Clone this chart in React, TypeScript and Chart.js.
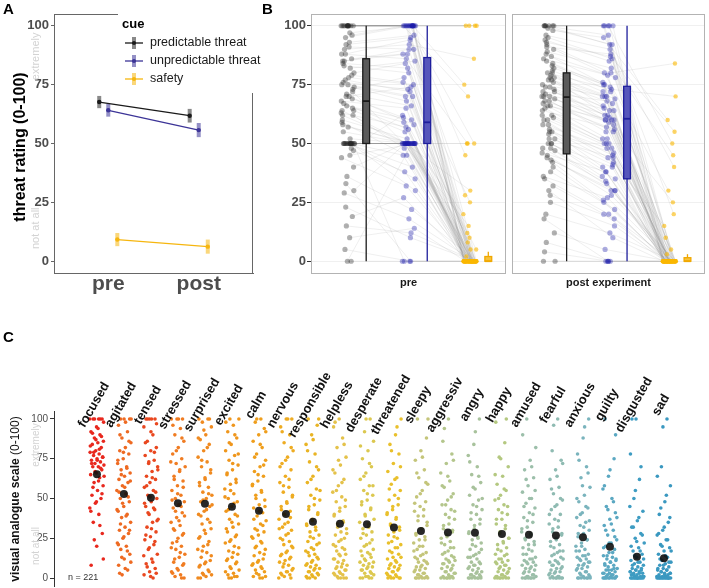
import React, { useEffect, useRef } from 'react';
import { Chart, registerables } from 'chart.js';

Chart.register(...registerables);

const FONT = "'Liberation Sans', Arial, Helvetica, sans-serif";
const W = 709;
const H = 588;
const HC = 600;

// ---------------- Panel A data ----------------
const timepoints = ['pre', 'post'];
const cueNames = ['predictable threat', 'unpredictable threat', 'safety'];
const predictableMean = [67.6, 61.8];
const unpredictableMean = [64.1, 55.7];
const safetyMean = [9.2, 6.2];
const predictableErr = [2.6, 2.9];
const unpredictableErr = [2.7, 3.0];
const safetyErr = [2.8, 3.0];
const ratingTicks = [0, 25, 50, 75, 100];

// ---------------- Panel B data ----------------
const facetNames = ['pre', 'post experiment'];
const prePredictable = [100, 50, 85, 72, 100, 60, 50, 95, 30, 78, 100, 50, 66, 88, 45, 100, 50, 75, 58, 0, 92, 50, 70, 83, 19, 100, 64, 50, 77, 40, 100, 55, 86, 50, 68, 10, 90, 73, 50, 62, 100, 23, 80, 50, 67, 96, 36, 75, 52, 5, 100, 57, 84, 48, 70, 50, 93, 29, 65, 0, 100, 50, 88, 64, 100, 50, 79, 71, 44, 97, 50, 62, 100, 85, 50, 33, 74, 91, 50, 69, 100, 59, 82, 50, 47, 100, 76, 50, 15, 63];
const preUnpredictable = [100, 50, 90, 50, 100, 52, 30, 100, 50, 75, 100, 45, 60, 86, 50, 100, 0, 70, 50, 0, 95, 50, 58, 80, 27, 100, 50, 35, 72, 50, 100, 50, 88, 50, 65, 14, 92, 78, 40, 50, 100, 10, 84, 50, 56, 100, 22, 68, 50, 0, 100, 50, 82, 62, 74, 50, 96, 18, 59, 50, 100, 50, 94, 55, 100, 50, 76, 66, 32, 100, 50, 48, 100, 88, 50, 0, 70, 90, 50, 61, 100, 45, 85, 50, 38, 100, 73, 50, 12, 57];
const preSafety = [0, 0, 0, 15, 0, 0, 0, 100, 0, 0, 0, 0, 5, 0, 0, 50, 0, 0, 0, 0, 0, 30, 0, 0, 0, 100, 0, 2, 0, 10, 0, 0, 50, 0, 0, 0, 86, 0, 0, 0, 0, 0, 25, 0, 0, 70, 0, 0, 0, 0, 100, 0, 0, 12, 0, 0, 45, 0, 0, 20, 0, 0, 0, 0, 0, 0, 8, 0, 0, 100, 0, 0, 0, 0, 50, 0, 0, 28, 0, 0, 0, 0, 0, 0, 0, 75, 0, 0, 0, 5];
const postPredictable = [100, 60, 75, 48, 100, 82, 30, 70, 55, 92, 0, 78, 65, 40, 95, 72, 50, 88, 12, 68, 100, 80, 45, 62, 25, 74, 90, 58, 0, 77, 85, 52, 70, 35, 98, 66, 48, 79, 20, 73, 100, 60, 83, 44, 70, 28, 94, 76, 50, 67, 87, 8, 72, 56, 100, 42, 80, 64, 38, 71, 100, 54, 86, 62, 91, 47, 74, 68, 32, 99, 58, 43, 96, 78, 52, 18, 81, 89, 46, 66, 100, 61, 77, 36, 50, 93, 69, 55, 4, 84];
const postUnpredictable = [100, 48, 70, 30, 92, 75, 10, 62, 40, 80, 0, 60, 50, 25, 86, 68, 35, 74, 5, 55, 100, 66, 28, 50, 15, 61, 80, 45, 0, 70, 72, 38, 58, 20, 95, 60, 33, 69, 12, 62, 100, 44, 76, 30, 55, 18, 85, 65, 40, 52, 78, 0, 60, 42, 96, 26, 73, 57, 22, 64, 100, 41, 79, 52, 88, 34, 64, 59, 20, 92, 48, 30, 90, 70, 44, 0, 72, 82, 38, 56, 100, 50, 67, 27, 36, 87, 60, 46, 0, 75];
const postSafety = [0, 0, 0, 0, 20, 0, 0, 0, 0, 84, 0, 0, 0, 0, 0, 5, 0, 0, 0, 0, 50, 0, 0, 0, 0, 0, 30, 0, 0, 0, 0, 0, 0, 0, 60, 0, 0, 10, 0, 0, 0, 0, 3, 0, 0, 0, 45, 0, 0, 0, 0, 0, 0, 15, 0, 0, 70, 0, 0, 0, 0, 0, 0, 0, 0, 0, 0, 25, 0, 0, 0, 0, 40, 0, 0, 0, 0, 0, 0, 0, 0, 0, 0, 0, 0, 55, 0, 0, 0, 0];
const preBoxLow = [0, 0, 0];
const preBoxQ1 = [50, 50, 0];
const preBoxMedian = [68, 59, 0];
const preBoxQ3 = [86, 86.5, 2];
const preBoxHigh = [100, 100, 4];
const postBoxLow = [0, 0, 0];
const postBoxQ1 = [45.6, 35, 0];
const postBoxMedian = [69.7, 60.5, 0];
const postBoxQ3 = [80, 74.3, 1.5];
const postBoxHigh = [100, 100, 3];

// ---------------- Panel C data ----------------
const emotions = ['focused', 'agitated', 'tensed', 'stressed', 'surprised', 'excited', 'calm', 'nervous', 'responsible', 'helpless', 'desperate', 'threatened', 'sleepy', 'aggressiv', 'angry', 'happy', 'amused', 'fearful', 'anxious', 'guilty', 'disgusted', 'sad'];
const emotionMeans = [65.2, 52.8, 50.5, 47, 46.7, 44.8, 42.3, 40.3, 35.4, 34.2, 33.8, 31.7, 29.6, 28.7, 28.5, 27.7, 27.2, 26.8, 25.6, 19.7, 13.4, 12.4];
const sampleSize = 'n = 221';
const focusedVals = [100, 100, 100, 100, 95, 92, 90, 88, 86, 85, 84, 82, 80, 79, 78, 77, 76, 75, 74, 73, 72, 71, 70, 70, 68, 66, 65, 63, 60, 58, 55, 52, 50, 47, 44, 40, 35, 28, 20, 8, 100, 100, 98, 94, 91, 89, 87, 83, 81, 79, 76, 74, 72, 69, 67, 64, 61, 57, 53, 48, 42, 33, 24, 12];
const agitatedVals = [100, 100, 100, 96, 92, 88, 85, 82, 80, 78, 75, 72, 70, 68, 66, 64, 62, 60, 58, 55, 53, 50, 48, 45, 42, 40, 38, 35, 32, 30, 28, 25, 22, 20, 18, 15, 12, 8, 5, 2, 100, 98, 90, 86, 79, 74, 69, 65, 61, 57, 54, 51, 47, 43, 39, 34, 30, 26, 21, 17, 13, 10, 6, 3];
const tensedVals = [100, 100, 100, 100, 95, 90, 86, 82, 80, 77, 74, 72, 70, 67, 64, 62, 60, 57, 55, 52, 50, 48, 45, 43, 40, 37, 35, 32, 29, 26, 24, 21, 18, 15, 12, 9, 6, 4, 2, 0, 100, 97, 92, 85, 79, 73, 68, 63, 58, 54, 51, 47, 44, 41, 36, 31, 27, 23, 19, 14, 10, 7, 3, 1];
const stressedVals = [100, 100, 100, 94, 90, 86, 82, 78, 75, 72, 70, 67, 64, 61, 58, 55, 52, 50, 48, 46, 44, 41, 38, 35, 33, 30, 28, 25, 22, 20, 18, 15, 13, 10, 8, 6, 4, 2, 1, 0, 100, 96, 88, 80, 73, 68, 62, 57, 53, 49, 45, 42, 39, 36, 31, 27, 23, 19, 16, 12, 9, 5, 3, 0];
const surprisedVals = [100, 100, 98, 95, 90, 87, 84, 80, 76, 73, 70, 66, 63, 60, 57, 54, 52, 50, 48, 45, 42, 40, 37, 34, 31, 28, 26, 23, 20, 18, 16, 13, 11, 9, 7, 5, 3, 2, 1, 0, 100, 93, 88, 82, 74, 68, 62, 58, 53, 49, 46, 43, 39, 35, 30, 25, 21, 17, 14, 10, 8, 4, 2, 0];
const excitedVals = [100, 100, 96, 92, 88, 84, 80, 77, 74, 71, 68, 65, 62, 59, 56, 53, 50, 48, 45, 42, 40, 37, 34, 32, 29, 27, 24, 22, 20, 17, 15, 13, 11, 9, 7, 5, 3, 2, 1, 0, 98, 90, 85, 78, 72, 66, 60, 55, 51, 47, 43, 39, 35, 31, 26, 23, 19, 16, 12, 10, 6, 4, 1, 0];
const calmVals = [100, 98, 94, 90, 86, 82, 78, 74, 70, 67, 64, 61, 58, 55, 52, 49, 46, 44, 41, 39, 36, 34, 31, 29, 27, 25, 22, 20, 18, 16, 14, 12, 10, 8, 7, 5, 4, 2, 1, 0, 100, 92, 84, 76, 71, 65, 59, 54, 50, 45, 42, 37, 33, 30, 26, 23, 19, 15, 11, 9, 6, 3, 1, 0];
const nervousVals = [100, 100, 95, 90, 85, 80, 76, 72, 68, 64, 60, 57, 54, 51, 48, 45, 42, 40, 37, 35, 32, 30, 27, 25, 23, 21, 19, 17, 15, 13, 11, 10, 8, 7, 5, 4, 3, 2, 1, 0, 100, 92, 82, 74, 70, 62, 58, 52, 47, 43, 38, 34, 31, 28, 24, 20, 16, 14, 12, 9, 6, 4, 2, 0];
const responsibleVals = [100, 96, 90, 84, 78, 73, 68, 64, 60, 56, 52, 49, 46, 43, 40, 37, 34, 32, 29, 27, 25, 23, 21, 19, 17, 15, 14, 12, 11, 9, 8, 7, 6, 5, 4, 3, 2, 1, 0, 0, 100, 87, 80, 70, 62, 55, 50, 45, 41, 36, 33, 30, 26, 22, 18, 16, 13, 10, 8, 6, 4, 2, 1, 0];
const helplessVals = [100, 95, 88, 82, 76, 71, 66, 62, 58, 54, 51, 48, 45, 42, 39, 36, 34, 31, 29, 27, 25, 23, 21, 19, 17, 15, 14, 12, 11, 10, 8, 7, 6, 5, 4, 3, 2, 1, 0, 0, 98, 84, 74, 68, 60, 55, 49, 44, 40, 35, 32, 28, 24, 20, 18, 15, 12, 9, 7, 5, 3, 2, 0, 0];
const desperateVals = [100, 92, 86, 80, 75, 70, 66, 62, 58, 55, 52, 49, 46, 43, 40, 37, 34, 31, 29, 27, 25, 22, 20, 18, 16, 14, 13, 11, 10, 9, 8, 7, 6, 5, 4, 3, 2, 1, 0, 0, 100, 83, 72, 64, 58, 53, 48, 44, 39, 35, 32, 28, 24, 21, 17, 15, 12, 10, 7, 5, 3, 1, 0, 0];
const threatenedVals = [100, 90, 84, 78, 72, 67, 63, 59, 55, 52, 49, 46, 43, 40, 37, 34, 32, 29, 27, 25, 23, 21, 19, 17, 15, 13, 12, 10, 9, 8, 7, 6, 5, 4, 3, 2, 1, 0, 0, 0, 95, 80, 70, 62, 56, 50, 45, 41, 38, 33, 30, 26, 22, 19, 16, 13, 11, 8, 6, 4, 2, 1, 0, 0];
const sleepyVals = [100, 88, 80, 74, 68, 63, 59, 55, 51, 48, 45, 42, 39, 36, 33, 31, 28, 26, 24, 22, 20, 18, 16, 14, 13, 11, 10, 9, 8, 7, 6, 5, 4, 3, 2, 1, 1, 0, 0, 0, 100, 76, 66, 60, 53, 47, 43, 39, 35, 31, 27, 24, 20, 17, 15, 12, 10, 7, 5, 3, 2, 0, 0, 0];
const aggressivVals = [100, 86, 78, 72, 66, 61, 57, 53, 49, 46, 43, 40, 37, 34, 31, 29, 27, 25, 23, 21, 19, 17, 15, 14, 12, 11, 10, 9, 8, 7, 6, 5, 4, 3, 2, 1, 1, 0, 0, 0, 94, 74, 64, 58, 51, 46, 42, 38, 33, 30, 26, 22, 19, 16, 13, 11, 9, 6, 4, 3, 1, 0, 0, 0];
const angryVals = [100, 84, 77, 70, 65, 60, 56, 52, 49, 46, 43, 40, 37, 34, 31, 28, 26, 24, 22, 20, 18, 16, 14, 13, 12, 10, 9, 8, 7, 6, 5, 4, 3, 2, 2, 1, 0, 0, 0, 0, 92, 73, 64, 57, 50, 45, 41, 37, 33, 29, 25, 21, 18, 15, 13, 10, 8, 6, 4, 2, 1, 0, 0, 0];
const happyVals = [98, 85, 76, 70, 64, 59, 55, 52, 49, 46, 43, 40, 37, 34, 31, 28, 25, 23, 21, 19, 17, 15, 14, 12, 11, 10, 9, 8, 7, 6, 5, 4, 3, 2, 1, 1, 0, 0, 0, 0, 100, 75, 65, 56, 50, 45, 41, 37, 33, 29, 25, 22, 18, 15, 12, 10, 8, 6, 4, 2, 1, 0, 0, 0];
const amusedVals = [100, 82, 74, 68, 63, 58, 54, 50, 47, 44, 41, 38, 35, 32, 29, 27, 25, 23, 21, 19, 17, 15, 13, 12, 11, 10, 9, 8, 7, 6, 5, 4, 3, 2, 1, 1, 0, 0, 0, 0, 90, 70, 62, 55, 50, 45, 40, 36, 31, 28, 24, 21, 18, 15, 12, 10, 8, 6, 4, 2, 1, 0, 0, 0];
const fearfulVals = [100, 80, 74, 68, 62, 57, 53, 49, 46, 43, 40, 37, 34, 32, 29, 27, 25, 23, 21, 19, 17, 16, 14, 13, 11, 10, 9, 8, 7, 6, 5, 4, 3, 2, 1, 1, 0, 0, 0, 0, 96, 72, 64, 56, 50, 45, 40, 36, 31, 28, 24, 20, 17, 15, 12, 10, 8, 6, 4, 3, 1, 0, 0, 0];
const anxiousVals = [100, 88, 78, 70, 63, 57, 52, 48, 44, 41, 38, 35, 33, 30, 28, 26, 24, 22, 20, 18, 17, 15, 14, 13, 12, 11, 10, 9, 8, 7, 6, 5, 4, 3, 2, 1, 0, 0, 0, 0, 95, 74, 66, 58, 50, 45, 40, 36, 32, 28, 24, 20, 17, 14, 12, 10, 8, 6, 4, 2, 1, 0, 0, 0];
const guiltyVals = [100, 75, 64, 56, 50, 45, 41, 37, 33, 30, 27, 24, 22, 20, 18, 16, 14, 13, 12, 11, 10, 9, 8, 7, 6, 5, 5, 4, 3, 3, 2, 2, 1, 1, 0, 0, 0, 0, 0, 0, 90, 68, 58, 48, 43, 38, 34, 30, 26, 22, 19, 16, 14, 12, 10, 8, 6, 5, 3, 2, 1, 0, 0, 0];
const disgustedVals = [100, 78, 62, 50, 42, 36, 32, 28, 25, 22, 19, 17, 15, 13, 11, 10, 9, 8, 7, 6, 5, 5, 4, 4, 3, 3, 2, 2, 1, 1, 1, 0, 0, 0, 0, 0, 0, 0, 0, 0, 100, 70, 55, 45, 38, 32, 27, 23, 20, 17, 14, 12, 10, 8, 6, 5, 4, 3, 2, 1, 0, 0, 0, 0];
const sadVals = [100, 70, 58, 48, 40, 35, 30, 27, 24, 21, 19, 17, 15, 13, 11, 10, 9, 8, 7, 6, 5, 5, 4, 3, 3, 2, 2, 1, 1, 1, 0, 0, 0, 0, 0, 0, 0, 0, 0, 0, 95, 64, 52, 44, 38, 32, 28, 24, 20, 17, 14, 12, 10, 8, 6, 5, 4, 3, 2, 1, 0, 0, 0, 0];
const emotionValues = [focusedVals, agitatedVals, tensedVals, stressedVals, surprisedVals, excitedVals, calmVals, nervousVals, responsibleVals, helplessVals, desperateVals, threatenedVals, sleepyVals, aggressivVals, angryVals, happyVals, amusedVals, fearfulVals, anxiousVals, guiltyVals, disgustedVals, sadVals];

// ---------------- styles ----------------
const emotionColors = ['#e8281e', '#ee6a22', '#e9471f', '#f07c22', '#f08a20', '#ef961c', '#ef9e1c', '#eeac22', '#e9b424', '#e4c24a', '#dcc850', '#e9c02c', '#c4c57a', '#b4c68c', '#a8c29c', '#b4c880', '#9cbfaa', '#8fbbb2', '#7ab4bd', '#5ba8c2', '#3e9cc2', '#3a98c0'];

const jitter = (i: number, g: number) => ((i * 0.6180339887 + g * 0.2718) % 1) - 0.5;

const baseOptions = {
  responsive: false,
  animation: false,
  events: [],
  devicePixelRatio: 1,
};

function text(ctx: CanvasRenderingContext2D, s: string, x: number, y: number, font: string, color: string, align: CanvasTextAlign = 'left', baseline: CanvasTextBaseline = 'middle', rot = 0) {
  ctx.save();
  ctx.translate(x, y);
  if (rot) ctx.rotate(rot);
  ctx.font = font;
  ctx.fillStyle = color;
  ctx.textAlign = align;
  ctx.textBaseline = baseline;
  ctx.fillText(s, 0, 0);
  ctx.restore();
}

// ---------------- Panel A ----------------
function configA(): any {
  const means = [predictableMean, unpredictableMean, safetyMean];
  const errs = [predictableErr, unpredictableErr, safetyErr];
  const colors = ['#1a1a1a', '#3c3497', '#f6b60f'];
  const barColors = ['rgba(40,40,40,0.55)', 'rgba(60,52,151,0.55)', 'rgba(246,182,15,0.55)'];
  const dodge = [-0.1, 0, 0.1];
  const xOf = (t: number, s: number) => t + 1 + dodge[s];
  const left = 54, top = 14, right = 253, bottom = 273;
  const plugin = {
    id: 'panelA',
    beforeDatasetsDraw(chart: any) {
      const { ctx, scales: { x, y } } = chart;
      ctx.save();
      ctx.lineWidth = 4;
      means.forEach((m, s) => m.forEach((v, t) => {
        const px = x.getPixelForValue(xOf(t, s));
        ctx.strokeStyle = barColors[s];
        ctx.beginPath();
        ctx.moveTo(px, y.getPixelForValue(v - errs[s][t]));
        ctx.lineTo(px, y.getPixelForValue(v + errs[s][t]));
        ctx.stroke();
      }));
      ctx.restore();
    },
    afterDraw(chart: any) {
      const { ctx, chartArea: ca, scales: { y } } = chart;
      ctx.save();
      ctx.strokeStyle = '#666';
      ctx.lineWidth = 1;
      ctx.beginPath();
      ctx.moveTo(ca.left, ca.top + 0.5);
      ctx.lineTo(118, ca.top + 0.5);
      ctx.moveTo(ca.right - 0.5, 93);
      ctx.lineTo(ca.right - 0.5, ca.bottom);
      ctx.stroke();
      ctx.restore();
      text(ctx, 'A', 3, 14, `bold 15px ${FONT}`, '#000', 'left', 'alphabetic');
      text(ctx, 'threat rating (0-100)', 21, 147, `bold 16px ${FONT}`, '#000', 'center', 'middle', -Math.PI / 2);
      text(ctx, 'extremely', 36, y.getPixelForValue(87), `11px ${FONT}`, '#d3d3d3', 'center', 'middle', -Math.PI / 2);
      text(ctx, 'not at all', 36, y.getPixelForValue(14), `11px ${FONT}`, '#d3d3d3', 'center', 'middle', -Math.PI / 2);
      // legend
      text(ctx, 'cue', 122, 24, `bold 13px ${FONT}`, '#000', 'left', 'middle');
      const ly = [43, 61, 79];
      cueNames.forEach((n, s) => {
        ctx.save();
        ctx.strokeStyle = barColors[s];
        ctx.lineWidth = 4;
        ctx.beginPath();
        ctx.moveTo(134, ly[s] - 6);
        ctx.lineTo(134, ly[s] + 6);
        ctx.stroke();
        ctx.strokeStyle = colors[s];
        ctx.lineWidth = 1.3;
        ctx.beginPath();
        ctx.moveTo(125, ly[s]);
        ctx.lineTo(143, ly[s]);
        ctx.stroke();
        ctx.fillStyle = colors[s];
        ctx.beginPath();
        ctx.arc(134, ly[s], 2, 0, Math.PI * 2);
        ctx.fill();
        ctx.restore();
        text(ctx, n, 150, ly[s], `12.5px ${FONT}`, '#1a1a1a', 'left', 'middle');
      });
    },
  };
  return {
    type: 'scatter',
    data: {
      datasets: means.map((m, s) => ({
        label: cueNames[s],
        data: m.map((v, t) => ({ x: xOf(t, s), y: v })),
        showLine: true,
        borderColor: colors[s],
        backgroundColor: colors[s],
        borderWidth: 1.3,
        pointRadius: 2.2,
        pointBorderWidth: 0,
      })),
    },
    options: {
      ...baseOptions,
      layout: { padding: { left: left - 50, top, right: W - right, bottom: H - bottom - 30 } },
      plugins: { legend: { display: false }, tooltip: { enabled: false } },
      scales: {
        x: {
          type: 'linear', min: 0.4, max: 2.6,
          afterBuildTicks: (s: any) => { s.ticks = timepoints.map((_, i) => ({ value: i + 1 })); },
          afterFit: (s: any) => { s.height = 30; },
          ticks: { callback: (v: any) => timepoints[Math.round(v) - 1], font: { family: FONT, size: 21, weight: 'bold' }, color: '#4d4d4d', padding: -1, maxRotation: 0, autoSkip: false },
          grid: { display: false, drawTicks: false },
          border: { display: true, color: '#666', width: 1 },
        },
        y: {
          min: -5, max: 105,
          afterBuildTicks: (s: any) => { s.ticks = ratingTicks.map((v) => ({ value: v })); },
          afterFit: (s: any) => { s.width = 50; },
          ticks: { font: { family: FONT, size: 13, weight: 'bold' }, color: '#4d4d4d', padding: 2 },
          grid: { drawOnChartArea: false, drawTicks: true, tickLength: 3, tickColor: '#666' },
          border: { display: true, color: '#666', width: 1 },
        },
      },
    },
    plugins: [plugin],
  };
}

// ---------------- Panel B ----------------
function configB(f: number): any {
  const series = f === 0 ? [prePredictable, preUnpredictable, preSafety] : [postPredictable, postUnpredictable, postSafety];
  const lo = f === 0 ? preBoxLow : postBoxLow;
  const q1 = f === 0 ? preBoxQ1 : postBoxQ1;
  const med = f === 0 ? preBoxMedian : postBoxMedian;
  const q3 = f === 0 ? preBoxQ3 : postBoxQ3;
  const hi = f === 0 ? preBoxHigh : postBoxHigh;
  const left = f === 0 ? 311 : 512;
  const right = f === 0 ? 506 : 707;
  const top = 14, bottom = 273;
  const axisW = f === 0 ? 40 : 0;
  const pointColors = ['rgba(35,35,35,0.36)', 'rgba(25,25,170,0.36)', 'rgba(250,184,0,0.6)'];
  const boxFill = ['#5a5a5a', '#5656bb', '#f7c23a'];
  const boxStroke = ['#1a1a1a', '#1e1e9c', '#f0a800'];
  const px = (g: number, i: number) => g + 1 - 0.15 + jitter(i, g + f * 3) * 0.22;
  const lineData: any[] = [];
  series[0].forEach((_, i) => {
    for (let g = 0; g < 3; g++) lineData.push({ x: px(g, i), y: series[g][i] });
    lineData.push({ x: px(2, i), y: null });
  });
  const plugin = {
    id: 'panelB' + f,
    afterDatasetsDraw(chart: any) {
      const { ctx, scales: { x, y } } = chart;
      ctx.save();
      for (let g = 0; g < 3; g++) {
        const xc = x.getPixelForValue(g + 1 + 0.15);
        const x0 = x.getPixelForValue(g + 1 + 0.15 - 0.056);
        const x1 = x.getPixelForValue(g + 1 + 0.15 + 0.056);
        ctx.strokeStyle = boxStroke[g];
        ctx.lineWidth = 1.3;
        ctx.beginPath();
        ctx.moveTo(xc, y.getPixelForValue(lo[g]));
        ctx.lineTo(xc, y.getPixelForValue(hi[g]));
        ctx.stroke();
        const yt = y.getPixelForValue(q3[g]);
        const yb = y.getPixelForValue(q1[g]);
        ctx.fillStyle = boxFill[g];
        ctx.fillRect(x0, yt, x1 - x0, yb - yt);
        ctx.strokeRect(x0, yt, x1 - x0, yb - yt);
        ctx.lineWidth = 1.8;
        ctx.beginPath();
        const ym = y.getPixelForValue(med[g]);
        ctx.moveTo(x0, ym);
        ctx.lineTo(x1, ym);
        ctx.stroke();
      }
      ctx.restore();
    },
    afterDraw(chart: any) {
      const { ctx, chartArea: ca } = chart;
      ctx.save();
      ctx.strokeStyle = '#b3b3b3';
      ctx.lineWidth = 1;
      ctx.strokeRect(ca.left + 0.5, ca.top + 0.5, ca.right - ca.left - 1, ca.bottom - ca.top);
      ctx.restore();
      if (f === 0) text(ctx, 'B', 262, 14, `bold 15px ${FONT}`, '#000', 'left', 'alphabetic');
    },
  };
  return {
    type: 'scatter',
    data: {
      datasets: [
        { label: 'lines', data: lineData, showLine: true, spanGaps: false, pointRadius: 0, borderColor: 'rgba(140,140,140,0.2)', borderWidth: 0.7, order: 5 },
        ...series.map((vals, g) => ({
          label: cueNames[g],
          data: vals.map((v, i) => ({ x: px(g, i), y: v })),
          pointRadius: g === 2 ? 2.2 : 2.6,
          backgroundColor: pointColors[g],
          borderWidth: 0,
          order: 1,
        })),
      ],
    },
    options: {
      ...baseOptions,
      layout: { padding: { left: left - axisW, top, right: W - right, bottom: H - bottom - 20 } },
      plugins: { legend: { display: false }, tooltip: { enabled: false } },
      scales: {
        x: {
          type: 'linear', min: 0.246, max: 3.44,
          afterFit: (s: any) => { s.height = 20; },
          ticks: { display: false },
          grid: { display: false, drawTicks: false },
          border: { display: false },
          title: { display: true, text: facetNames[f], font: { family: FONT, size: 11, weight: 'bold' }, color: '#1a1a1a', padding: { top: 0, bottom: 3.4 } },
        },
        y: {
          min: -5, max: 105,
          afterBuildTicks: (s: any) => { s.ticks = ratingTicks.map((v) => ({ value: v })); },
          afterFit: (s: any) => { s.width = axisW; },
          ticks: { display: f === 0, font: { family: FONT, size: 13, weight: 'bold' }, color: '#4d4d4d', padding: 1 },
          grid: { drawOnChartArea: true, color: '#f0f0f0', drawTicks: f === 0, tickLength: 4, tickColor: '#333' },
          border: { display: false },
        },
      },
    },
    plugins: [plugin],
  };
}

// ---------------- Panel C ----------------
function configC(): any {
  const left = 54, top = 411, right = 705, bottom = 586;
  const plugin = {
    id: 'panelC',
    afterDraw(chart: any) {
      const { ctx, scales: { x, y } } = chart;
      emotions.forEach((e, i) => {
        text(ctx, e, x.getPixelForValue(i) - 3, y.getPixelForValue(100) - 14, `bold 13px ${FONT}`, '#111', 'center', 'middle', -Math.PI / 3);
      });
      text(ctx, 'C', 3, 342, `bold 15px ${FONT}`, '#000', 'left', 'alphabetic');
      ctx.save();
      ctx.translate(16, 499);
      ctx.rotate(-Math.PI / 2);
      ctx.textBaseline = 'middle';
      ctx.textAlign = 'left';
      ctx.fillStyle = '#111';
      ctx.font = `bold 12px ${FONT}`;
      const t1 = 'visual analogue scale ';
      const w1 = ctx.measureText(t1).width;
      ctx.font = `12px ${FONT}`;
      const t2 = '(0-100)';
      const w2 = ctx.measureText(t2).width;
      const x0 = -(w1 + w2) / 2;
      ctx.font = `bold 12px ${FONT}`;
      ctx.fillText(t1, x0, 0);
      ctx.font = `12px ${FONT}`;
      ctx.fillText(t2, x0 + w1, 0);
      ctx.restore();
      text(ctx, 'extremely', 36, 445, `10px ${FONT}`, '#d3d3d3', 'center', 'middle', -Math.PI / 2);
      text(ctx, 'not at all', 36, 546, `10px ${FONT}`, '#d3d3d3', 'center', 'middle', -Math.PI / 2);
      text(ctx, sampleSize, 68, 578, `9px ${FONT}`, '#333', 'left', 'middle');
    },
  };
  return {
    type: 'scatter',
    data: {
      datasets: [
        { label: 'mean', data: emotionMeans.map((v, i) => ({ x: i, y: v })), pointRadius: 4, backgroundColor: 'rgba(15,15,15,0.9)', borderWidth: 0, order: 0 },
        ...emotionValues.map((vals, g) => ({
          label: emotions[g],
          data: vals.map((v, i) => ({ x: g + jitter(i, g) * 0.54, y: v })),
          pointRadius: 1.8,
          backgroundColor: emotionColors[g],
          borderWidth: 0,
          order: 1,
        })),
      ],
    },
    options: {
      ...baseOptions,
      layout: { padding: { left: left - 30, top, right: W - right, bottom: HC - bottom } },
      plugins: { legend: { display: false }, tooltip: { enabled: false } },
      scales: {
        x: { type: 'linear', display: false, min: -1.59, max: 22.52 },
        y: {
          min: -5, max: 105,
          afterBuildTicks: (s: any) => { s.ticks = ratingTicks.map((v) => ({ value: v })); },
          afterFit: (s: any) => { s.width = 30; },
          ticks: { font: { family: FONT, size: 10 }, color: '#4d4d4d', padding: 2 },
          grid: { drawOnChartArea: false, drawTicks: true, tickLength: 4, tickColor: '#333' },
          border: { display: true, color: '#333', width: 1 },
        },
      },
    },
    plugins: [plugin],
  };
}

export default function App() {
  const refA = useRef<HTMLCanvasElement>(null);
  const refB1 = useRef<HTMLCanvasElement>(null);
  const refB2 = useRef<HTMLCanvasElement>(null);
  const refC = useRef<HTMLCanvasElement>(null);
  useEffect(() => {
    document.body.style.margin = '0';
    document.body.style.overflow = 'hidden';
    const charts = [
      new Chart(refA.current as HTMLCanvasElement, configA()),
      new Chart(refB1.current as HTMLCanvasElement, configB(0)),
      new Chart(refB2.current as HTMLCanvasElement, configB(1)),
      new Chart(refC.current as HTMLCanvasElement, configC()),
    ];
    return () => charts.forEach((c) => c.destroy());
  }, []);
  const cs: React.CSSProperties = { position: 'absolute', left: 0, top: 0 };
  return (
    <div style={{ position: 'relative', width: W, height: H, overflow: 'hidden', background: '#fff' }}>
      <canvas ref={refA} width={W} height={H} style={{ ...cs, width: W, height: H }} />
      <canvas ref={refB1} width={W} height={H} style={{ ...cs, width: W, height: H }} />
      <canvas ref={refB2} width={W} height={H} style={{ ...cs, width: W, height: H }} />
      <canvas ref={refC} width={W} height={HC} style={{ ...cs, width: W, height: HC }} />
    </div>
  );
}
